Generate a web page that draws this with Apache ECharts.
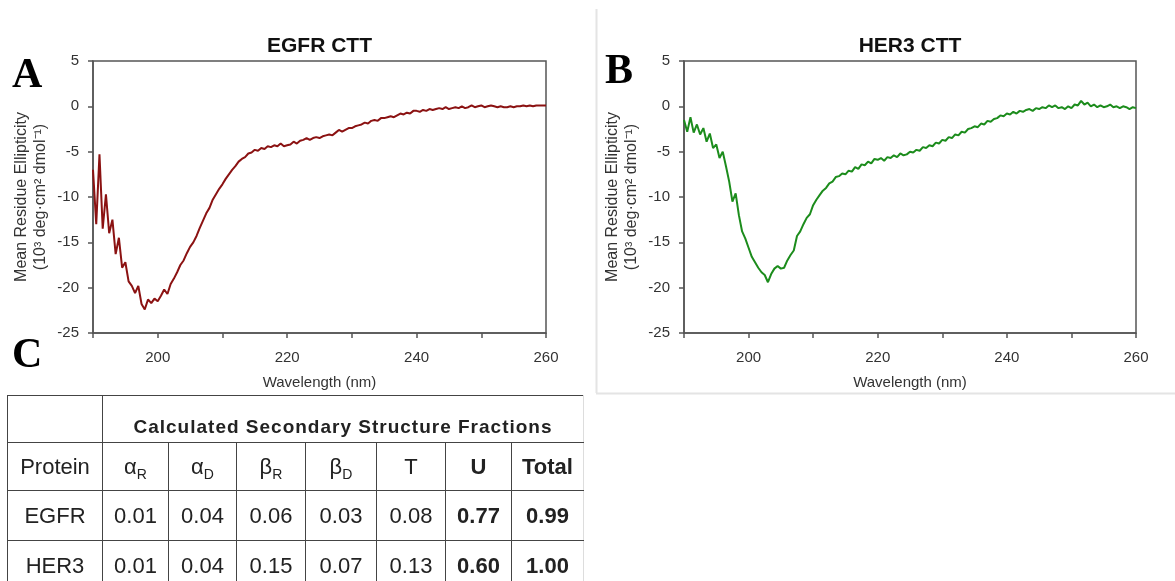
<!DOCTYPE html>
<html><head><meta charset="utf-8">
<script src="https://cdn.jsdelivr.net/npm/echarts@6/dist/echarts.min.js"></script>
<style>
html,body{margin:0;padding:0;background:#fff;width:1175px;height:581px;overflow:hidden;}
#chart{position:absolute;left:0;top:0;width:1175px;height:581px;}
#tbl{position:absolute;left:7px;top:395px;border-collapse:collapse;table-layout:fixed;font-family:"Liberation Sans",Arial,sans-serif;color:#222;}
#tbl td{border:1.5px solid #444;text-align:center;padding:0;font-size:22px;}
#tbl tr.h1 td{height:42px;}
#tbl tr.h2 td{height:47px;}
#tbl tr.d td{height:49px;}
#tbl td.last{border-right-color:#ddd;}
#tbl td.hdr{font-weight:bold;font-size:19px;letter-spacing:1px;vertical-align:bottom;padding-bottom:4px;}
#tbl sub{font-size:14px;vertical-align:-5px;line-height:0;}
#tbl .b{font-weight:bold;}
</style></head>
<body>
<div id="chart"></div>
<table id="tbl"></table>
<script>
// ---- data ----
const wavelengthStart = 190;
const wavelengthStep = 0.5;
const xLabelValues = [200, 220, 240, 260];
const yTickValues = [5, 0, -5, -10, -15, -20, -25];

const egfrValues = [
  -7.0,-13.0,-5.3,-13.5,-9.7,-14.0,-12.5,-16.3,-14.5,-17.8,
  -17.2,-19.3,-19.8,-20.6,-19.8,-21.8,-22.4,-21.3,-21.7,-21.2,
  -21.5,-20.9,-20.2,-20.7,-19.6,-19.0,-18.3,-17.5,-17.0,-16.2,
  -15.5,-15.0,-14.3,-13.4,-12.6,-11.8,-11.2,-10.3,-9.7,-9.1,
  -8.6,-8.0,-7.5,-7.0,-6.6,-6.1,-5.8,-5.6,-5.2,-5.1,
  -4.8,-4.9,-4.6,-4.7,-4.4,-4.5,-4.3,-4.4,-4.1,-4.4,
  -4.3,-4.2,-3.9,-4.1,-3.8,-3.7,-3.5,-3.7,-3.5,-3.4,
  -3.5,-3.3,-3.2,-3.1,-3.2,-2.9,-2.6,-2.8,-2.6,-2.4,
  -2.4,-2.2,-2.1,-2.0,-1.8,-1.9,-1.6,-1.5,-1.6,-1.3,
  -1.3,-1.2,-1.1,-1.2,-1.0,-0.8,-0.9,-0.7,-0.8,-0.5,
  -0.5,-0.6,-0.4,-0.5,-0.3,-0.4,-0.3,-0.2,-0.3,-0.1,
  -0.3,-0.2,-0.1,-0.2,0.0,-0.2,-0.1,0.1,-0.1,0.0,
  0.1,-0.1,0.0,0.1,0.0,-0.1,0.0,-0.1,-0.1,0.0,
  -0.1,0.0,0.0,0.1,0.0,0.1,0.0,0.1,0.1,0.1,
  0.1
];

const her3Values = [
  -1.5,-2.8,-1.2,-2.9,-2.0,-3.1,-2.4,-3.9,-3.0,-4.6,
  -4.2,-5.7,-5.0,-6.6,-8.3,-10.5,-9.6,-12.0,-13.8,-14.6,
  -15.6,-16.6,-17.2,-17.8,-18.3,-18.6,-19.4,-18.5,-17.9,-17.6,
  -17.9,-17.8,-17.0,-16.4,-15.9,-14.3,-13.8,-13.0,-12.3,-11.9,
  -10.9,-10.3,-9.8,-9.3,-9.0,-8.5,-8.3,-7.8,-7.7,-7.4,
  -7.5,-7.1,-7.2,-6.7,-6.9,-6.4,-6.5,-6.1,-6.3,-5.8,
  -5.9,-5.7,-6.0,-5.6,-5.7,-5.4,-5.6,-5.2,-5.4,-5.3,
  -5.0,-5.1,-4.8,-4.9,-4.5,-4.6,-4.3,-4.4,-4.0,-4.1,
  -3.7,-3.8,-3.4,-3.5,-3.1,-3.2,-2.8,-2.9,-2.5,-2.4,
  -2.2,-2.3,-1.9,-2.0,-1.6,-1.7,-1.4,-1.3,-1.0,-1.1,
  -0.8,-0.9,-0.6,-0.8,-0.5,-0.6,-0.4,-0.3,-0.5,-0.2,
  -0.3,-0.1,-0.2,0.1,-0.1,0.1,-0.2,-0.1,-0.3,0.0,
  -0.2,0.2,0.1,0.6,0.2,0.4,0.0,0.2,-0.1,0.1,
  -0.1,0.0,0.2,-0.1,0.0,-0.2,0.0,-0.1,-0.3,-0.1,
  -0.2
];

const panelTitles = ['EGFR CTT', 'HER3 CTT'];
const panelLetters = ['A', 'B', 'C'];
const xAxisTitle = 'Wavelength (nm)';
const yAxisTitle = 'Mean Residue Ellipticity\n(10³ deg·cm² dmol⁻¹)';

const tableHeader = 'Calculated Secondary Structure Fractions';
const tableColumns = [['Protein',''],['α','R'],['α','D'],['β','R'],['β','D'],['T',''],['U',''],['Total','']];
const boldColumns = ['U','Total'];
const proteins = ['EGFR', 'HER3'];
const egfrFractions = [0.01, 0.04, 0.06, 0.03, 0.08, 0.77, 0.99];
const her3Fractions = [0.01, 0.04, 0.15, 0.07, 0.13, 0.60, 1.00];

// ---- table ----
(function(){
  const colW = [95, 66, 68, 69, 71, 69, 66, 72];
  let html = '<colgroup>' + colW.map(w => '<col style="width:' + w + 'px">').join('') + '</colgroup>';
  html += '<tr class="h1"><td></td><td class="hdr last" colspan="7">' + tableHeader + '</td></tr>';
  html += '<tr class="h2">' + tableColumns.map((c, i) =>
    '<td class="' + (boldColumns.includes(c[0]) ? 'b' : '') + (i === tableColumns.length - 1 ? ' last' : '') + '">' +
    c[0] + (c[1] ? '<sub>' + c[1] + '</sub>' : '') + '</td>').join('') + '</tr>';
  [egfrFractions, her3Fractions].forEach((row, r) => {
    html += '<tr class="d"><td>' + proteins[r] + '</td>' + row.map((v, i) =>
      '<td class="' + (i >= 5 ? 'b' : '') + (i === row.length - 1 ? ' last' : '') + '">' + v.toFixed(2) + '</td>').join('') + '</tr>';
  });
  document.getElementById('tbl').innerHTML = html;
})();

// ---- chart ----
const FONT = '"Liberation Sans", Arial, sans-serif';
const AX = '#555';
const toPairs = vals => vals.map((v, i) => [wavelengthStart + i * wavelengthStep, v]);

const grids = [
  {left: 93, top: 61, width: 453, height: 272},
  {left: 684, top: 61, width: 452, height: 272}
];

function xAxisFor(gi) {
  return {
    gridIndex: gi, type: 'value', min: 190, max: 260, interval: 10,
    name: xAxisTitle, nameLocation: 'middle', nameGap: 42,
    nameTextStyle: {fontSize: 15, color: '#333', fontFamily: FONT},
    axisLine: {onZero: false, lineStyle: {color: AX, width: 1.5}},
    axisTick: {length: 5, lineStyle: {color: AX, width: 1.5}},
    axisLabel: {margin: 17, fontSize: 15, color: '#333', fontFamily: FONT,
      formatter: v => xLabelValues.includes(v) ? String(v) : ''},
    splitLine: {show: false}
  };
}
function yAxisFor(gi) {
  return {
    gridIndex: gi, type: 'value', min: -25, max: 5, interval: 5,
    name: yAxisTitle, nameLocation: 'middle', nameGap: 43,
    nameTextStyle: {fontSize: 16, color: '#333', fontFamily: FONT, lineHeight: 19},
    axisLine: {onZero: false, lineStyle: {color: AX, width: 1.5}},
    axisTick: {length: 5, lineStyle: {color: AX, width: 1.5}},
    axisLabel: {margin: 14, fontSize: 15, color: '#333', fontFamily: FONT,
      formatter: v => yTickValues.includes(v) ? String(v) : ''},
    splitLine: {show: false}
  };
}

const chart = echarts.init(document.getElementById('chart'), null, {renderer: 'canvas'});
const LETTER_FONT = 'bold 42px "Liberation Serif", "Times New Roman", serif';
chart.setOption({
  animation: false,
  backgroundColor: 'transparent',
  title: panelTitles.map((t, i) => ({
    text: t, left: grids[i].left + grids[i].width / 2, textAlign: 'center', top: 36, padding: 0,
    textStyle: {fontSize: 21, fontWeight: 'bold', color: '#111', fontFamily: FONT}
  })),
  grid: grids.map(g => Object.assign({show: true, borderColor: AX, borderWidth: 1.5, backgroundColor: 'transparent'}, g)),
  xAxis: [xAxisFor(0), xAxisFor(1)],
  yAxis: [yAxisFor(0), yAxisFor(1)],
  series: [
    {type: 'line', xAxisIndex: 0, yAxisIndex: 0, data: toPairs(egfrValues), showSymbol: false,
      lineStyle: {color: '#8b1212', width: 2}, itemStyle: {color: '#8b1212'}},
    {type: 'line', xAxisIndex: 1, yAxisIndex: 1, data: toPairs(her3Values), showSymbol: false,
      lineStyle: {color: '#1c8c1c', width: 2}, itemStyle: {color: '#1c8c1c'}}
  ],
  graphic: [
    {type: 'line', shape: {x1: 596.5, y1: 9, x2: 596.5, y2: 393}, style: {stroke: '#e4e4e4', lineWidth: 2}},
    {type: 'line', shape: {x1: 596, y1: 393.5, x2: 1175, y2: 393.5}, style: {stroke: '#e4e4e4', lineWidth: 2}},
    {type: 'text', left: 12, top: 55, style: {text: panelLetters[0], font: LETTER_FONT, fill: '#000'}},
    {type: 'text', left: 605, top: 51, style: {text: panelLetters[1], font: LETTER_FONT, fill: '#000'}},
    {type: 'text', left: 12, top: 335, style: {text: panelLetters[2], font: LETTER_FONT, fill: '#000'}}
  ]
});
</script>
</body></html>
